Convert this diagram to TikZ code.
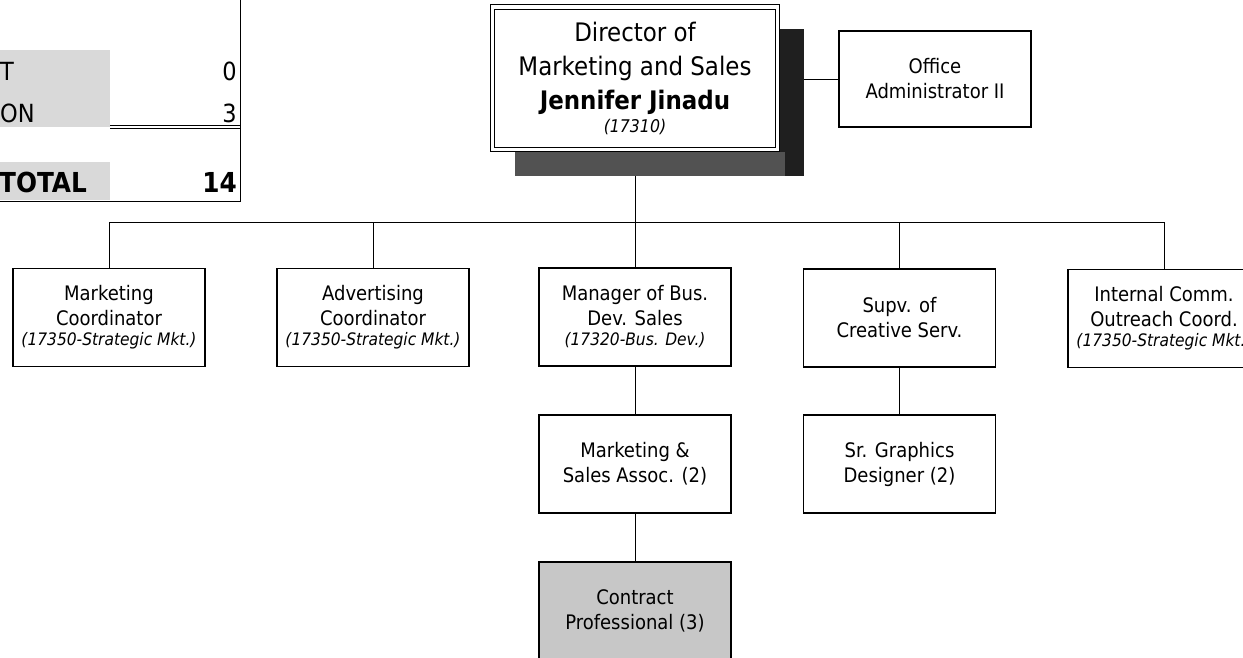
\documentclass[tikz,border=0pt]{standalone}
\usepackage{fontspec}
\setmainfont{DejaVu Sans Condensed}
\begin{document}
\begin{tikzpicture}[x=1pt,y=-1pt,
  wire/.style={line width=1pt},
  box/.style={draw, line width=1.1pt, fill=white, rectangle, inner sep=0pt,
    minimum width=192pt, minimum height=98pt, align=center,
    font=\fontsize{20}{25}\selectfont},
  cbox/.style={box, fill=black!22},
  tcell/.style={inner sep=0pt, font=\fontsize{25}{28}\selectfont},
  tbold/.style={inner sep=0pt, font=\fontsize{27.5}{30}\selectfont\bfseries}]
\newcommand{\unitcode}[1]{{\fontsize{17.2}{20}\selectfont\itshape #1}}

\clip (0,0) rectangle (1243,657);
\fill[white] (0,0) rectangle (1243,657);

% headcount table
\fill[black!15] (0,50) rectangle (110,127);
\fill[black!15] (0,162) rectangle (110,200);
\draw[wire] (240,0) -- (240,201) -- (0,201);
\draw[line width=0.8pt] (110,125.5) -- (240,125.5);
\draw[line width=0.8pt] (110,128.5) -- (240,128.5);
\node[tcell, anchor=west] (tT) at (0,71) {T};
\node[tcell, anchor=west] (tON) at (0,113) {ON};
\node[tcell, anchor=east] (t0) at (237,71) {0};
\node[tcell, anchor=east] (t3) at (237,113) {3};
\node[tbold, anchor=west] (tTot) at (-1,182) {TOTAL};
\node[tbold, anchor=east] (t14) at (237,182) {14};

% director with shadow and double frame
\node[fill=black!88, inner sep=0pt, minimum width=289pt, minimum height=147pt]
  (dirshadow) at (659.5,102.5) {};
\fill[black!68] (515,152) rectangle (785,176);
\node[draw, double, double distance=3.6pt, line width=1pt, fill=white,
  inner sep=0pt, minimum width=285pt, minimum height=142.5pt, align=center,
  font=\fontsize{25.5}{34}\selectfont]
  (dir) at (635,78.25)
  {Director of\\Marketing and Sales\\\textbf{Jennifer Jinadu}\\[-11pt]
   {\fontsize{17.5}{20}\selectfont\itshape (17310)}};

\node[box, minimum height=96pt] (office) at (935,79) {Office\\Administrator II};

% first level
\node[box] (mc)   at (109,317.5) {Marketing\\Coordinator\\[-5pt]\unitcode{(17350-Strategic Mkt.)}};
\node[box] (ac)   at (373,317.5) {Advertising\\Coordinator\\[-5pt]\unitcode{(17350-Strategic Mkt.)}};
\node[box] (mgr)  at (635,317)   {Manager of Bus.\\Dev. Sales\\[-5pt]\unitcode{(17320-Bus. Dev.)}};
\node[box] (supv) at (899.5,318) {Supv. of\\Creative Serv.};
\node[box] (ic)   at (1164,318.5) {Internal Comm.\\Outreach Coord.\\[-5pt]\unitcode{(17350-Strategic Mkt.)}};

% lower levels
\node[box] (msa) at (635,464)   {Marketing \&\\Sales Assoc. (2)};
\node[box] (srg) at (899.5,464) {Sr. Graphics\\Designer (2)};
\node[cbox] (cp) at (635,611)   {Contract\\Professional (3)};

% connectors
\coordinate (busL) at (109,222);
\coordinate (busR) at (1164,222);
\draw[wire] (office.west -| dirshadow.east) -- (office.west);
\draw[wire] (dir.south |- dirshadow.south) -- (dir.south |- busL);
\draw[wire] (busL) -- (busR);
\foreach \n in {mc,ac,mgr,supv,ic}
  \draw[wire] (\n.north |- busL) -- (\n.north);
\draw[wire] (mgr.south) -- (msa.north);
\draw[wire] (msa.south) -- (cp.north);
\draw[wire] (supv.south) -- (srg.north);
\end{tikzpicture}
\end{document}
